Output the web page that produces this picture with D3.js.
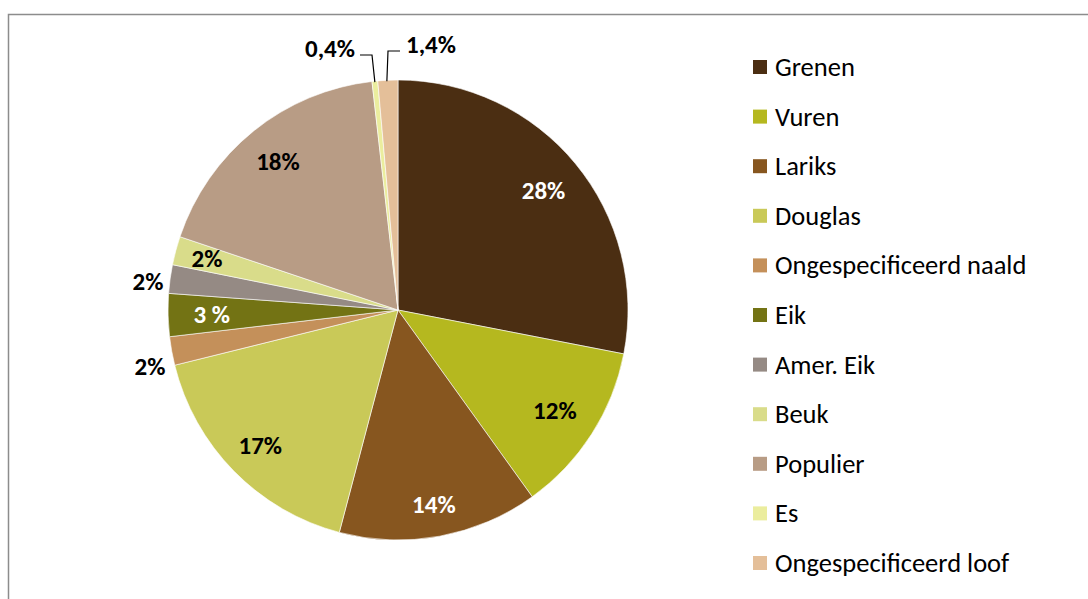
<!DOCTYPE html>
<html>
<head>
<meta charset="utf-8">
<script src="https://cdn.jsdelivr.net/npm/d3@7"></script>
<style>
  body { margin: 0; background: #fff; }
  svg { display: block; }
</style>
</head>
<body>
<script>
// houtsoorten en aandelen (%)
var categories = ["Grenen", "Vuren", "Lariks", "Douglas", "Ongespecificeerd naald", "Eik",
                  "Amer. Eik", "Beuk", "Populier", "Es", "Ongespecificeerd loof"];
var values = [28, 12, 14, 17, 2, 3, 2, 2, 18, 0.4, 1.4];
var labels = ["28%", "12%", "14%", "17%", "2%", "3 %", "2%", "2%", "18%", "0,4%", "1,4%"];
var colors = ["#4b2e12", "#b5b81f", "#87561f", "#c9c958", "#c4905a", "#737314",
              "#958a84", "#d9dc8a", "#b89c85", "#ebed9e", "#e4bf99"];

var width = 1088, height = 599;
var cx = 398, cy = 310, radius = 230;

var svg = d3.select("body").append("svg")
  .attr("width", width)
  .attr("height", height);

// frame
svg.append("path")
  .attr("d", "M8.5," + height + " V14.5 H" + width)
  .attr("fill", "none")
  .attr("stroke", "#8c8c8c")
  .attr("stroke-width", 1.5);

var data = categories.map(function(c, i) {
  return {name: c, value: values[i], label: labels[i], color: colors[i]};
});

var pie = d3.pie().sort(null).value(d => d.value);
var arcs = pie(data);
var arc = d3.arc().innerRadius(0).outerRadius(radius);

var g = svg.append("g").attr("transform", "translate(" + cx + "," + cy + ")");

g.selectAll("path.slice")
  .data(arcs)
  .enter().append("path")
  .attr("class", "slice")
  .attr("d", arc)
  .attr("fill", d => d.data.color)
  .attr("stroke", "#fff")
  .attr("stroke-width", 0.6);

// label placement: inside (fraction of radius) or outside
var labelPos = {
  "Grenen": {r: 0.82, color: "#fff"},
  "Vuren": {r: 0.81, color: "#000"},
  "Lariks": {r: 0.86, color: "#fff"},
  "Douglas": {r: 0.84, color: "#000"},
  "Ongespecificeerd naald": {xy: [150, 366], color: "#000"},
  "Eik": {r: 0.81, color: "#fff"},
  "Amer. Eik": {xy: [148, 281], color: "#000"},
  "Beuk": {r: 0.86, color: "#000"},
  "Populier": {r: 0.83, color: "#000"},
  "Es": {xy: [330, 48], color: "#000"},
  "Ongespecificeerd loof": {xy: [431, 44], color: "#000"}
};

var fontFam = "Carlito, 'Open Sans', 'Noto Sans', sans-serif";

g.selectAll("text.lbl")
  .data(arcs)
  .enter().append("text")
  .attr("class", "lbl")
  .attr("text-anchor", "middle")
  .attr("dominant-baseline", "central")
  .attr("font-family", fontFam)
  .attr("font-weight", "bold")
  .attr("font-size", 25)
  .attr("fill", d => labelPos[d.data.name].color)
  .attr("x", function(d) {
    var p = labelPos[d.data.name];
    if (p.xy) return p.xy[0] - cx;
    var a = (d.startAngle + d.endAngle) / 2;
    return Math.sin(a) * radius * p.r;
  })
  .attr("y", function(d) {
    var p = labelPos[d.data.name];
    if (p.xy) return p.xy[1] - cy;
    var a = (d.startAngle + d.endAngle) / 2;
    return -Math.cos(a) * radius * p.r;
  })
  .text(d => d.data.label);

// leader lines for the two small slices
function edgePoint(d) {
  var a = (d.startAngle + d.endAngle) / 2;
  return [Math.sin(a) * radius, -Math.cos(a) * radius];
}
var esArc = arcs[9], loofArc = arcs[10];
var pEs = edgePoint(esArc), pLoof = edgePoint(loofArc);
g.append("polyline")
  .attr("points", [[360 - cx, 55 - cy], [372 - cx, 55 - cy], [pEs[0], pEs[1] + 1]].join(" "))
  .attr("fill", "none").attr("stroke", "#000").attr("stroke-width", 1.2);
g.append("polyline")
  .attr("points", [[400 - cx, 51 - cy], [388 - cx, 51 - cy], [pLoof[0] - 1, pLoof[1] + 1]].join(" "))
  .attr("fill", "none").attr("stroke", "#000").attr("stroke-width", 1.2);

// legend
var legendY = d3.scalePoint().domain(categories).range([67, 563]);
var legend = svg.append("g");
var item = legend.selectAll("g.item")
  .data(data)
  .enter().append("g")
  .attr("class", "item")
  .attr("transform", d => "translate(753," + legendY(d.name) + ")");
item.append("rect")
  .attr("x", 0).attr("y", -7)
  .attr("width", 14).attr("height", 14)
  .attr("fill", d => d.color);
item.append("text")
  .attr("x", 22)
  .attr("dominant-baseline", "central")
  .attr("font-family", fontFam)
  .attr("font-size", 26.5)
  .attr("fill", "#000")
  .text(d => d.name);
</script>
</body>
</html>
